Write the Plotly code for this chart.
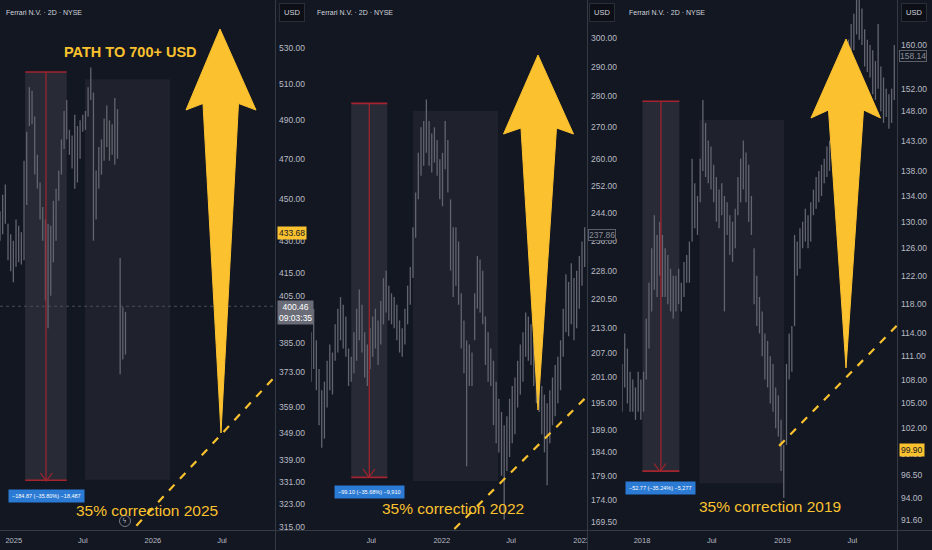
import math
import pandas as pd
import plotly.graph_objects as go

W, H = 932, 550
BG = "#131722"
GRAY_TXT = "#b8bbc4"
YELLOW = "#f9c22e"
RED = "#a3242e"
BLUE = "#2b7bd4"
FONT = "Liberation Sans, Arial, sans-serif"

# ---------------- data: weekly bar ranges ----------------
p1_start = "2024-11-26"
p1_high = [444, 452, 457, 438, 433, 430, 440, 437, 434, 469, 484, 508, 506, 492, 472, 458,
           446, 440, 438, 437, 449, 455, 464, 480, 495, 501, 485, 482, 493, 487, 490, 493,
           495, 508, 519, 505, 464, 476, 480, 491, 498, 490, 488, 502, 496, 422, 400, 398]
p1_low = [430, 433, 438, 421, 416, 411, 418, 420, 419, 421, 447, 487, 488, 462, 455, 440,
          430, 403, 391, 405, 420, 430, 449, 462, 475, 480, 472, 465, 455, 458, 470, 484,
          485, 492, 501, 430, 440, 455, 462, 469, 476, 469, 472, 467, 470, 372, 378, 380]

p2_start = "2021-01-25"
p2_high = [212, 218, 210, 203, 198, 200, 205, 209, 207, 214,
           218, 221, 219, 216, 208, 206, 212, 218, 223, 219,
           212, 209, 213, 216, 218, 215, 220, 226, 228, 224,
           222, 221, 219, 215, 213, 218, 224, 229, 240, 250,
           262, 270, 272, 279, 272, 268, 270, 266, 260, 262,
           272, 266, 248, 240, 240, 236, 222, 215, 210, 209,
           207, 222, 232, 231, 228, 216, 212, 208, 205, 200,
           196, 193, 190, 192, 196, 199, 201, 205, 209, 212,
           217, 216, 214, 210, 206, 203, 199, 197, 195, 198,
           201, 204, 206, 210, 218, 227, 225, 230, 226, 228,
           232, 236, 240]
p2_low = [200, 203, 198, 190, 185, 187, 194, 198, 197, 205,
          207, 210, 208, 206, 199, 200, 202, 205, 210, 207,
          201, 199, 203, 206, 208, 204, 209, 214, 217, 215,
          214, 213, 210, 207, 206, 209, 214, 219, 226, 237,
          248, 255, 258, 262, 258, 256, 259, 255, 248, 246,
          257, 250, 228, 221, 224, 219, 208, 202, 181, 199,
          199, 210, 218, 217, 214, 204, 200, 199, 190, 186,
          184, 179, 170, 180, 183, 186, 188, 194, 197, 200,
          206, 205, 204, 199, 195, 193, 188, 184, 177, 186,
          190, 192, 195, 198, 206, 212, 211, 214, 210, 213,
          218, 224, 229]

p3_start = "2017-11-10"
p3_high = [110, 114, 112, 109, 108, 107, 109, 108, 109, 116,
           121, 126, 131, 128, 130, 128, 126, 125, 123, 122,
           122, 123, 121, 124, 125, 127, 140, 136, 134, 140,
           150, 146, 143, 142, 139, 137, 135, 136, 134, 133,
           131, 130, 132, 137, 140, 143, 141, 139, 134, 126,
           122, 119, 117, 114, 113, 111, 110, 107, 106, 103,
           100, 110, 114, 115, 128, 127, 129, 130, 132, 131,
           133, 135, 137, 138, 139, 140, 142, 143, 145, 147,
           148, 150, 153, 158, 161, 164, 166, 170, 169, 167,
           163, 161, 160, 159, 157, 164, 156, 154, 152, 151,
           152, 160]
p3_low = [104, 107, 105, 104, 104, 103, 104, 103, 104, 108,
          112, 117, 120, 119, 122, 119, 119, 118, 117, 116,
          117, 118, 117, 119, 121, 121, 127, 129, 128, 133,
          138, 137, 136, 135, 133, 130, 129, 131, 117, 128,
          125, 124, 126, 131, 133, 135, 133, 130, 128, 118,
          115, 114, 111, 108, 107, 105, 104, 102, 101, 97,
          94, 100, 108, 109, 115, 122, 123, 126, 127, 126,
          127, 131, 132, 133, 134, 136, 137, 138, 140, 142,
          143, 144, 148, 150, 154, 157, 159, 162, 161, 160,
          156, 155, 154, 151, 150, 152, 148, 146, 147, 145,
          146, 150]

# price-axis tick labels
p1_yticks = [530, 510, 490, 470, 450, 430, 415, 405, 395, 385, 373, 359, 349, 339, 331, 323, 315]
p2_yticks = [300, 290, 280, 270, 260, 252, 244, 236, 228, 220.5, 213, 207, 201, 195, 189, 184, 179, 174, 169.5]
p3_yticks = [160, 152, 148, 143, 138, 134, 130, 126, 122, 118, 114, 111, 108, 105, 102, 99, 96.5, 94, 91.6]

# time-axis tick labels
p1_xticks = ["2025-01-01", "2025-07-01", "2026-01-01", "2026-07-01"]
p1_xtext = ["2025", "Jul", "2026", "Jul"]
p2_xticks = ["2021-07-01", "2022-01-01", "2022-07-01", "2023-01-01"]
p2_xtext = ["Jul", "2022", "Jul", "2023"]
p3_xticks = ["2018-01-01", "2018-07-01", "2019-01-01", "2019-07-01"]
p3_xtext = ["2018", "Jul", "2019", "Jul"]

# drawings: measured range (date0, date1, top, bottom) and shaded zone
p1_measure = ["2025-01-31", "2025-05-20", 516.40, 331.53]
p1_zone = ["2025-07-07", "2026-02-15", 512.4, 331.7]
p2_measure = ["2021-05-10", "2021-08-12", 277.75, 178.65]
p2_zone = ["2021-10-18", "2022-05-28", 275.3, 177.9]
p3_measure = ["2018-01-02", "2018-04-08", 149.75, 96.98]
p3_zone = ["2018-05-30", "2019-01-05", 146.5, 95.6]

# dashed trend lines (dates, prices)
p1_trend_x = ["2025-10-21", "2026-11-30"]
p1_trend_y = [311.6, 373.2]
p2_trend_x = ["2022-02-03", "2023-01-21"]
p2_trend_y = [168.1, 197.1]
p3_trend_x = ["2018-12-23", "2019-11-02"]
p3_trend_y = [99.90, 115.5]

# ---------------- layout geometry (pixels) ----------------
panels = [
    dict(x0=0, x1=275, xr=["2024-11-26", "2026-11-17"], yr=[314.1, 558.4],
         start=p1_start, hi=p1_high, lo=p1_low, yt=p1_yticks, xt=p1_xticks, xtt=p1_xtext,
         meas=p1_measure, zone=p1_zone, tx=p1_trend_x, ty=p1_trend_y),
    dict(x0=311, x1=587, xr=["2021-01-25", "2023-01-15"], yr=[167.9, 313.76],
         start=p2_start, hi=p2_high, lo=p2_low, yt=p2_yticks, xt=p2_xticks, xtt=p2_xtext,
         meas=p2_measure, zone=p2_zone, tx=p2_trend_x, ty=p2_trend_y),
    dict(x0=622, x1=897, xr=["2017-11-10", "2019-10-25"], yr=[90.5, 168.68],
         start=p3_start, hi=p3_high, lo=p3_low, yt=p3_yticks, xt=p3_xticks, xtt=p3_xtext,
         meas=p3_measure, zone=p3_zone, tx=p3_trend_x, ty=p3_trend_y),
]

PLOT_BOTTOM = 530


def px(x, y):
    return x / W, 1 - y / H


def poly(points):
    return "M " + " L ".join(f"{x / W:.5f},{1 - y / H:.5f}" for x, y in points) + " Z"


fig = go.Figure()
shapes = []
annotations = []

for k, p in enumerate(panels):
    sfx = "" if k == 0 else str(k + 1)
    xa, ya = "x" + sfx, "y" + sfx
    dates = pd.date_range(p["start"], periods=len(p["hi"]), freq="7D")
    xs, ys = [], []
    for d, h, l in zip(dates, p["hi"], p["lo"]):
        xs += [d, d, None]
        ys += [l, h, None]
    fig.add_trace(go.Scatter(x=xs, y=ys, mode="lines", xaxis=xa, yaxis=ya,
                             line=dict(color="#62656f", width=1.3), hoverinfo="skip",
                             showlegend=False, connectgaps=False))
    fig.add_trace(go.Scatter(x=p["tx"], y=p["ty"], mode="lines", xaxis=xa, yaxis=ya,
                             line=dict(color=YELLOW, width=2.2, dash="8px,8px"),
                             hoverinfo="skip", showlegend=False))

    fig.update_layout(**{
        "xaxis" + sfx: dict(domain=[p["x0"] / W, p["x1"] / W], range=p["xr"], type="date",
                            anchor=ya, tickvals=p["xt"], ticktext=p["xtt"], showgrid=False,
                            zeroline=False, showline=False, ticks="", ticklen=0, automargin=False,
                            ticklabelstandoff=4,
                            tickfont=dict(size=7.5, color=GRAY_TXT, family=FONT)),
        "yaxis" + sfx: dict(domain=[(H - PLOT_BOTTOM) / H, 1], type="log",
                            range=[math.log10(p["yr"][0]), math.log10(p["yr"][1])],
                            side="right", anchor=xa, showgrid=False, zeroline=False,
                            showline=False, ticks="", ticklen=0, automargin=False,
                            tickvals=p["yt"], ticktext=[f"{v:.2f}" for v in p["yt"]],
                            ticklabelstandoff=3,
                            tickfont=dict(size=8.5, color=GRAY_TXT, family=FONT)),
    })

    # shaded zone
    z = p["zone"]
    shapes.append(dict(type="rect", xref=xa, yref=ya, x0=z[0], x1=z[1],
                       y0=z[3], y1=z[2], fillcolor="#1f222c", line_width=0, layer="below"))
    # measured range box
    m = p["meas"]
    mid = (pd.Timestamp(m[0]) + (pd.Timestamp(m[1]) - pd.Timestamp(m[0])) / 2).strftime("%Y-%m-%d %H:%M")
    shapes.append(dict(type="rect", xref=xa, yref=ya, x0=m[0], x1=m[1],
                       y0=m[3], y1=m[2], fillcolor="#282b36", line_width=0, layer="below"))
    for yv in (m[2], m[3]):
        shapes.append(dict(type="line", xref=xa, yref=ya, x0=m[0], x1=m[1],
                           y0=yv, y1=yv, line=dict(color=RED, width=1.6), layer="above"))
    shapes.append(dict(type="line", xref=xa, yref=ya, x0=mid, x1=mid,
                       y0=m[3], y1=m[2], line=dict(color=RED, width=1.2), layer="above"))

# measure arrowheads (pixel positions of drawing tips)
for (ax_, ay_) in [(46.3, 481), (369, 477), (660, 471.5)]:
    shapes.append(dict(type="path", xref="paper", yref="paper",
                       path=f"M {(ax_ - 6) / W:.5f},{1 - (ay_ - 8) / H:.5f} L {ax_ / W:.5f},{1 - ay_ / H:.5f} L {(ax_ + 6) / W:.5f},{1 - (ay_ - 8) / H:.5f}",
                       line=dict(color=RED, width=1.2), layer="above"))

# big yellow arrows
arrows = [
    [(220, 29), (256, 110), (238.5, 103.5), (221, 433), (203, 103.5), (186, 110)],
    [(538, 55), (573.5, 134), (556.5, 128), (538, 410), (521, 128), (503.5, 134)],
    [(846, 39), (880.5, 118), (863.5, 110), (846, 368), (828.5, 110), (811, 118)],
]
for a in arrows:
    shapes.append(dict(type="path", xref="paper", yref="paper", path=poly(a),
                       fillcolor="#fbc12f", line=dict(color="#fbc12f", width=1),
                       opacity=1, layer="above"))

# current price line (panel 1)
shapes.append(dict(type="line", xref="x", yref="y", x0="2024-11-26", x1="2026-11-17",
                   y0=400.46, y1=400.46,
                   line=dict(color="#4a4e5a", width=1, dash="dot"), layer="below"))

# separators
for xs_ in (275.5, 587.5, 897.5):
    shapes.append(dict(type="line", xref="paper", yref="paper", x0=xs_ / W, x1=xs_ / W, y0=0, y1=1,
                       line=dict(color="#363a45", width=1), layer="above"))
shapes.append(dict(type="line", xref="paper", yref="paper", x0=0, x1=1,
                   y0=1 - 530.5 / H, y1=1 - 530.5 / H, line=dict(color="#363a45", width=1), layer="above"))
# cover date label running into the price-scale column of panel 2
shapes.append(dict(type="rect", xref="paper", yref="paper", x0=588 / W, x1=621 / W,
                   y0=0, y1=1 - 531.5 / H, fillcolor=BG, line_width=0, layer="above"))

# small icon circle
shapes.append(dict(type="circle", xref="paper", yref="paper",
                   x0=119.5 / W, x1=130.5 / W, y0=1 - 526.5 / H, y1=1 - 515.5 / H,
                   fillcolor=BG, line=dict(color="#787b86", width=1), layer="above"))


def ann(text, x, y, size, color, xanchor="center", bg=None, border=None, bold=False, family=FONT, pad=1):
    fx, fy = px(x, y)
    d = dict(text=text, x=fx, y=fy, xref="paper", yref="paper", xanchor=xanchor, yanchor="middle",
             showarrow=False, font=dict(size=size, color=color, family=family,
                                        weight="bold" if bold else "normal"))
    if bg:
        d.update(bgcolor=bg, borderpad=pad)
    if border:
        d.update(bordercolor=border, borderwidth=1)
    return d


annotations += [
    ann("ϟ", 125, 521, 7, "#b2b5be", family="DejaVu Sans"),
    ann("Ferrari N.V. · 2D · NYSE", 4, 12, 7, "#d1d4dc", xanchor="left"),
    ann("Ferrari N.V. · 2D · NYSE", 315, 12, 7, "#d1d4dc", xanchor="left"),
    ann("Ferrari N.V. · 2D · NYSE", 627, 12, 7, "#d1d4dc", xanchor="left"),
    ann("USD", 292, 12, 7.5, "#d1d4dc", bg="#0d0f16", border="#2a2e39", pad=4),
    ann("USD", 602, 12, 7.5, "#d1d4dc", bg="#0d0f16", border="#2a2e39", pad=4),
    ann("USD", 914, 12, 7.5, "#d1d4dc", bg="#0d0f16", border="#2a2e39", pad=4),
    ann("PATH TO 700+ USD", 130, 52, 14.5, YELLOW, bold=True),
    ann("35% correction 2025", 147, 510, 15.5, YELLOW),
    ann("35% correction 2022", 453, 508, 15.5, YELLOW),
    ann("35% correction 2019", 770, 506, 15.5, YELLOW),
    ann("−184.87 (−35.80%) −18,487", 46.5, 495.5, 5.5, "#ffffff", bg=BLUE, pad=3),
    ann("−99.10 (−35.68%) −9,910", 369, 491.5, 5.5, "#ffffff", bg=BLUE, pad=3),
    ann("−52.77 (−35.24%) −5,277", 660, 487.5, 5.5, "#ffffff", bg=BLUE, pad=3),
    ann("433.68", 276.5, 232.5, 8.5, "#131722", xanchor="left", bg="#f9c22e", pad=1),
    ann("400.46<br>09:03:35", 276.5, 312, 8.5, "#ffffff", xanchor="left", bg="#6a6d78", pad=1),
    ann("237.86", 588, 235, 8.5, "#8c8f99", xanchor="left", bg=BG, border="#5d606b", pad=0),
    ann("158.14", 898.5, 55.5, 8.5, "#8c8f99", xanchor="left", bg=BG, border="#5d606b", pad=0),
    ann("99.90", 898.5, 449.5, 8.5, "#131722", xanchor="left", bg="#f9c22e", pad=1),
]

fig.update_layout(
    width=W, height=H, template="none",
    paper_bgcolor=BG, plot_bgcolor=BG,
    margin=dict(l=0, r=0, t=0, b=0),
    showlegend=False, shapes=shapes, annotations=annotations,
    hovermode=False,
)

fig.write_html("out.html", config={"displayModeBar": False},
               post_script="document.body.style.margin='0px';document.body.style.background='#131722';")
